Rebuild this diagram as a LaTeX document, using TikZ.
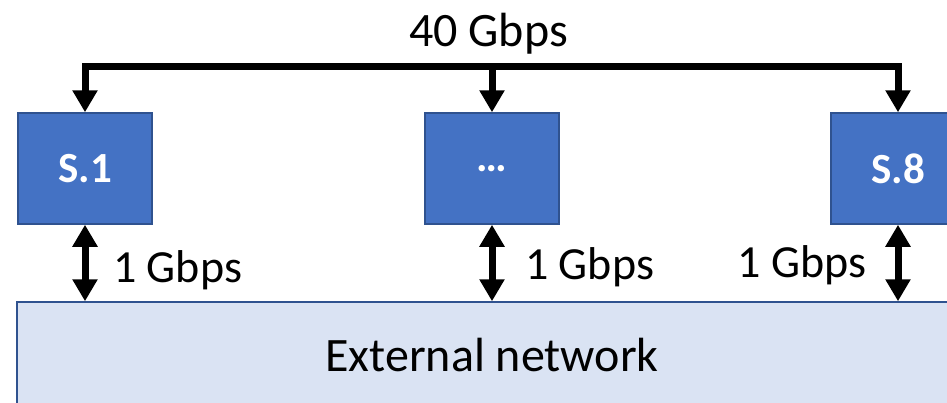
\documentclass[tikz,border=0pt]{standalone}
\usepackage{fontspec}
\setmainfont{Carlito}
\usetikzlibrary{arrows.meta}
\definecolor{srvfill}{HTML}{4472C4}
\definecolor{srvedge}{HTML}{2F528F}
\definecolor{netfill}{HTML}{DAE3F3}
\tikzset{
  bigtip/.tip={Triangle[width=24pt, length=22pt]},
  server/.style={draw=srvedge, fill=srvfill, line width=1.5pt, inner sep=0pt,
    minimum width=134pt, minimum height=111pt, text=white,
    font=\fontsize{43}{43}\selectfont\bfseries},
  network/.style={draw=srvedge, fill=netfill, line width=1.5pt, inner sep=0pt},
  link/.style={line width=7pt, line join=miter},
  rate/.style={font=\fontsize{46}{46}\selectfont, inner sep=0pt},
}
\begin{document}
\begin{tikzpicture}[x=1pt, y=-1pt]
  \useasboundingbox (0,0) rectangle (947,402);
  \clip (0,0) rectangle (947,402);

  % external network strip along the bottom
  \node[network, minimum width=963pt, minimum height=118pt] (ext) at (498.5,361) {};
  \node[anchor=base, inner sep=0pt, font=\fontsize{48}{48}\selectfont] (extlabel) at (492,371) {External network};

  % servers
  \node[server] (s1)  at (85,168.5)  {S.1};
  \node[server] (mid) at (492,168.5) {…};
  \node[server] (s8)  at (898,168.5) {S.8};

  % 40 Gbps bus feeding every server
  \coordinate (bus) at (492,66);
  \draw[link, bigtip-bigtip] (s1.north) |- (bus) -| (s8.north);
  \draw[link, -bigtip] (bus) -- (mid.north);
  \node[rate, anchor=base, font=\fontsize{48}{48}\selectfont] (busrate) at (488.5,46) {40 Gbps};

  % 1 Gbps uplinks to the external network
  \draw[link, bigtip-bigtip] (s1.south)  -- (s1.south  |- ext.north);
  \draw[link, bigtip-bigtip] (mid.south) -- (mid.south |- ext.north);
  \draw[link, bigtip-bigtip] (s8.south)  -- (s8.south  |- ext.north);
  \node[rate, anchor=base west] (r1) at (113,282) {1 Gbps};
  \node[rate, anchor=base west] (r2) at (525,279) {1 Gbps};
  \node[rate, anchor=base east] (r8) at (867,277) {1 Gbps};
\end{tikzpicture}
\end{document}
